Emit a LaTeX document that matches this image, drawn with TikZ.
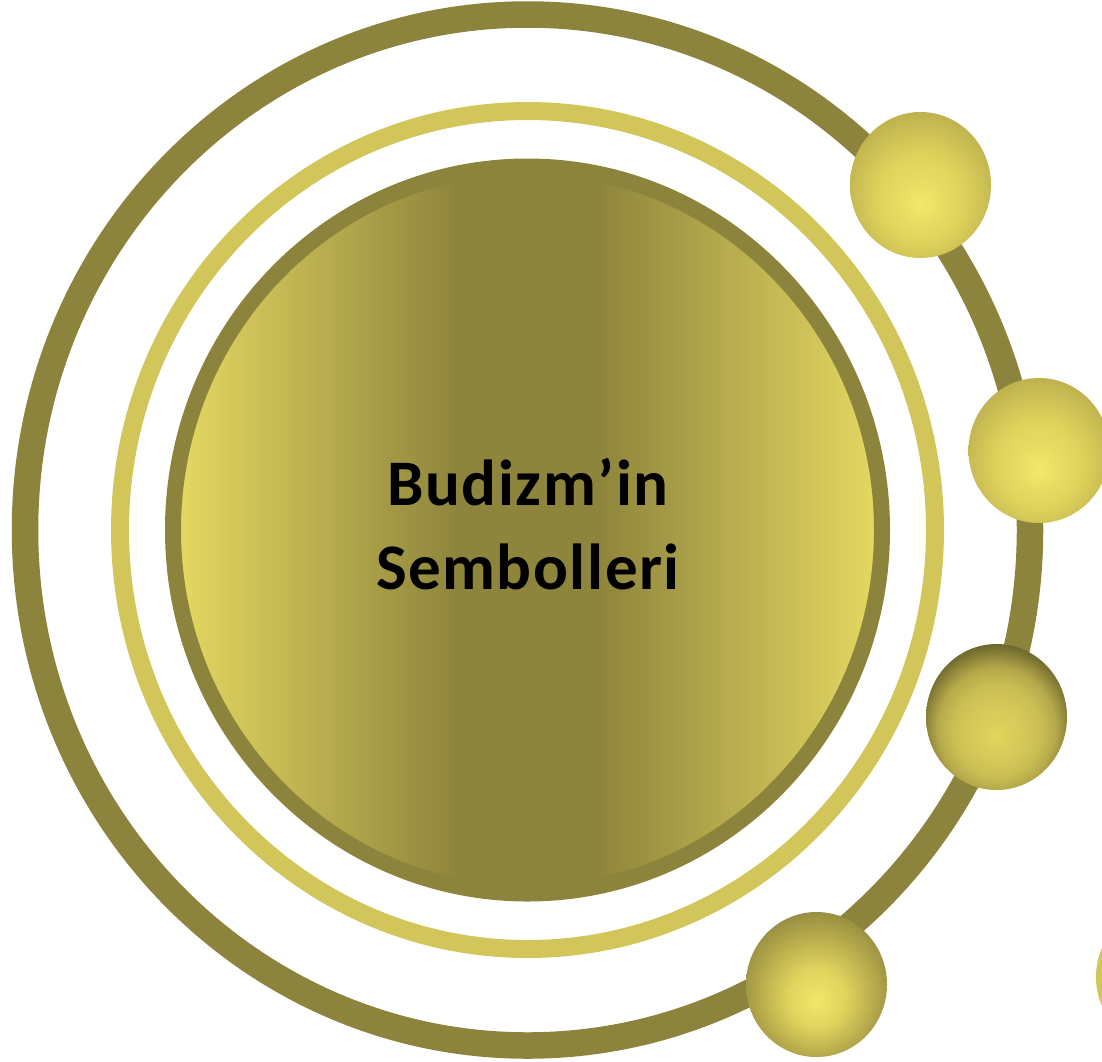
\documentclass[tikz,border=0pt]{standalone}
\usepackage{fontspec}
\setmainfont{Carlito}
\definecolor{olive}{HTML}{8C843C}
\definecolor{lightring}{HTML}{D2C65A}
\definecolor{yl}{HTML}{E6D962}
\definecolor{dk}{HTML}{8E853C}
\definecolor{sAhi}{HTML}{F2E86A}
\definecolor{sAmid}{HTML}{DDD15B}
\definecolor{sArim}{HTML}{BCAF4E}
\definecolor{sChi}{HTML}{E2D65E}
\definecolor{sCmid}{HTML}{CCC055}
\definecolor{sCb}{HTML}{B5A84A}
\definecolor{sCc}{HTML}{767030}
\definecolor{sCrim}{HTML}{585224}
\definecolor{sDhi}{HTML}{F2E66A}
\definecolor{sDmid}{HTML}{E0D45E}
\definecolor{sDb}{HTML}{B9AC4C}
\definecolor{sDrim}{HTML}{8E863E}
\pgfdeclarehorizontalshading{innerfill}{100bp}{color(0bp)=(yl); color(25bp)=(yl); color(45bp)=(dk); color(55bp)=(dk); color(75bp)=(yl); color(100bp)=(yl)}
\pgfdeclareradialshading{sphA}{\pgfpoint{0bp}{-7bp}}{color(0bp)=(sAhi); color(16bp)=(sAmid); color(29bp)=(sArim); color(50bp)=(sArim)}
\pgfdeclareradialshading{sphC}{\pgfpoint{0bp}{-7bp}}{color(0bp)=(sChi); color(15bp)=(sCmid); color(21bp)=(sCb); color(27bp)=(sCc); color(31bp)=(sCrim); color(50bp)=(sCrim)}
\pgfdeclareradialshading{sphD}{\pgfpoint{0bp}{-6bp}}{color(0bp)=(sDhi); color(10bp)=(sDmid); color(20bp)=(sDb); color(30bp)=(sDrim); color(50bp)=(sDrim)}
\begin{document}
\begin{tikzpicture}[x=1pt,y=-1pt,
  ballA/.style={shading=sphA},
  ballC/.style={shading=sphC},
  ballD/.style={shading=sphD}]
\useasboundingbox (0,0) rectangle (1102,1061);
\coordinate (c) at (527.5,530);
% outer ring
\draw[olive, line width=26.5pt] (c) ellipse [x radius=502.5, y radius=515.5];
% light ring
\draw[lightring, line width=18pt] (c) ellipse [x radius=407.5, y radius=419];
% inner disc
\path[shading=innerfill] (c) ellipse [x radius=354.5, y radius=363.5];
\draw[olive, line width=16pt] (c) ellipse [x radius=354.5, y radius=363.5];
% spheres
\path[ballA] (920.5,185) ellipse [x radius=70.5, y radius=73];
\path[ballA] (1039,450.5) ellipse [x radius=70.5, y radius=72.5];
\path[ballC] (996.5,717) ellipse [x radius=70.5, y radius=73];
\path[ballD] (816.5,984.5) ellipse [x radius=70.5, y radius=72.5];
\path[fill=lightring] (1167,977) ellipse [x radius=71, y radius=72.5];
% title
\node[font=\bfseries\fontsize{65}{84}\selectfont\addfontfeatures{LetterSpace=2.4}, align=center, inner sep=0pt] (title) at (528,524) {Budizm’in\\Sembolleri};
\end{tikzpicture}
\end{document}
